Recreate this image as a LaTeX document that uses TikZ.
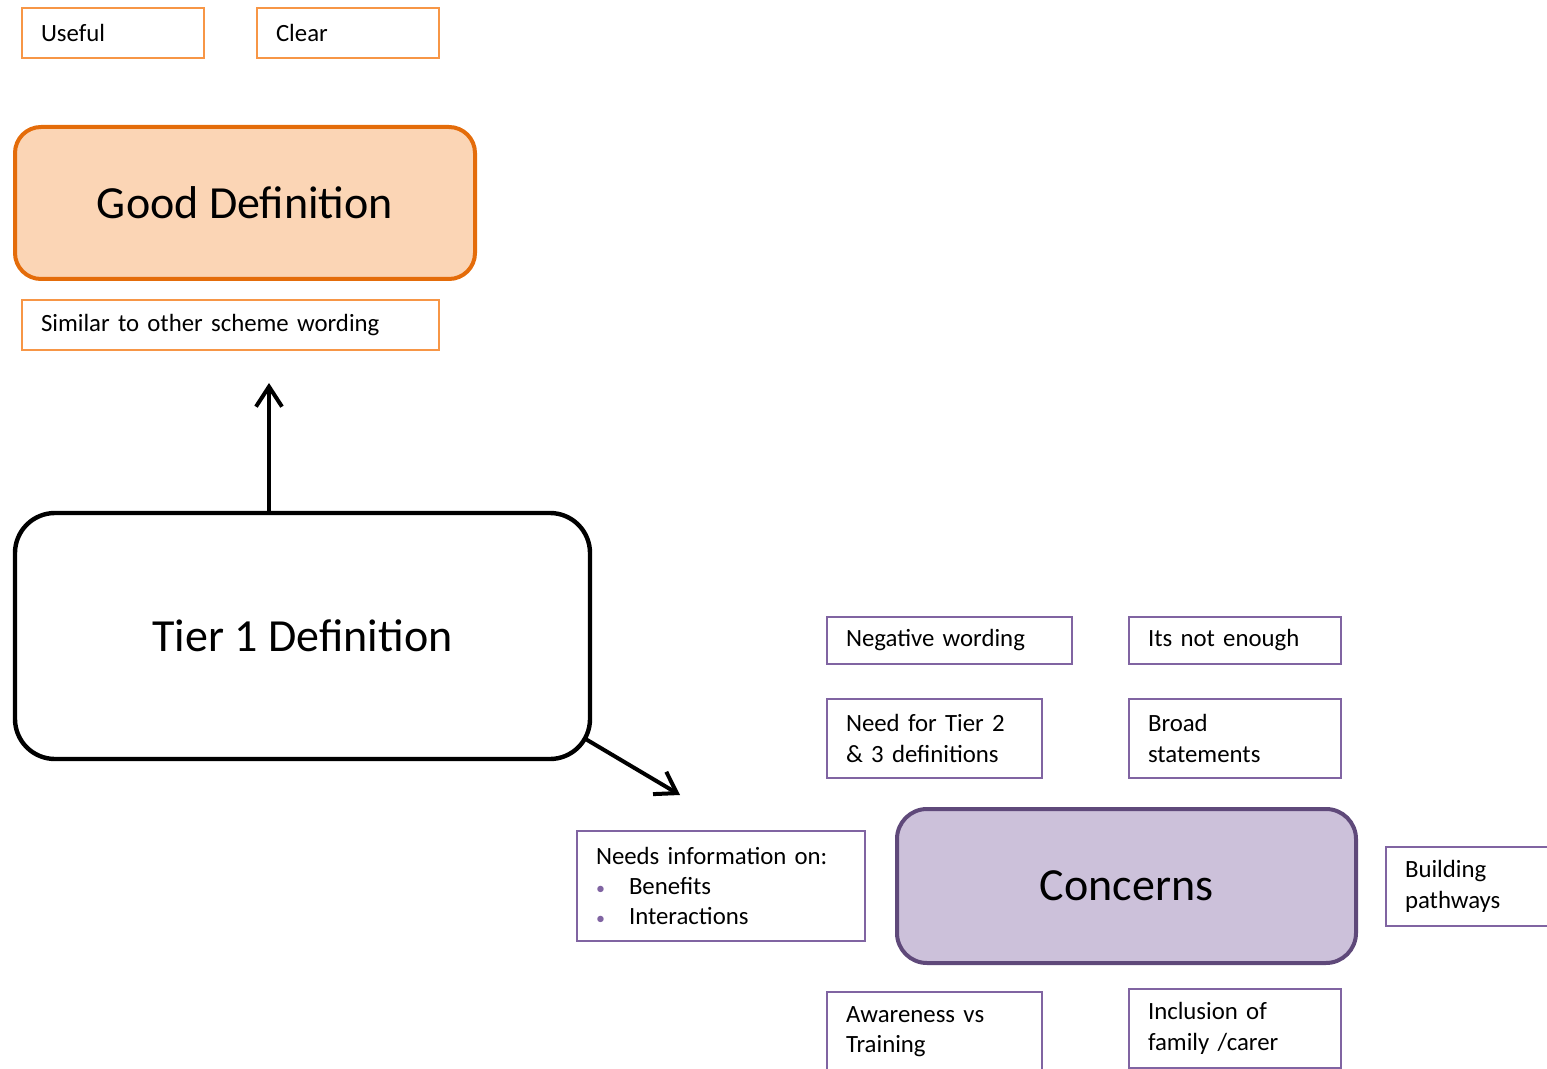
\documentclass[tikz,border=0pt]{standalone}
\usepackage{fontspec}
\setmainfont{Carlito}
\usetikzlibrary{arrows.meta,calc}
\definecolor{orline}{HTML}{F79646}
\definecolor{ordark}{HTML}{E46C0A}
\definecolor{orfill}{HTML}{FBD5B5}
\definecolor{puline}{HTML}{8064A2}
\definecolor{pudark}{HTML}{5F497A}
\definecolor{pufill}{HTML}{CCC1DA}

% a plain labelled box: name, style, left, top, width, height (pixels), text
\newcommand\tagbox[7]{%
  \pgfmathsetlengthmacro\tbw{#5*0.5pt}%
  \pgfmathsetlengthmacro\tbh{#6*0.5pt}%
  \pgfmathsetlengthmacro\tbt{#5*0.5pt-19pt}%
  \node[#2, anchor=north west, minimum width=\tbw, minimum height=\tbh,
        text width=\tbt] (#1) at (#3,#4) {#7};}
% a rounded title box: name, style, centre x, centre y, width, height, text
\newcommand\titlebox[7]{%
  \pgfmathsetlengthmacro\tbw{#5*0.5pt}%
  \pgfmathsetlengthmacro\tbh{#6*0.5pt}%
  \node[#2, minimum width=\tbw, minimum height=\tbh] (#1) at (#3,#4) {#7};}

\tikzset{
  tag/.style={draw, line width=1pt, inner xsep=9.5pt, inner ysep=0pt,
    align=left, font=\fontsize{12.4}{15.2}\selectfont, fill=white},
  ortag/.style={tag, draw=orline},
  putag/.style={tag, draw=puline},
  bigtitle/.style={font=\fontsize{23}{27}\selectfont, inner sep=0pt},
  link/.style={line width=2pt, -{Straight Barb[length=10pt,width=13pt,line width=2pt]}},
}
\newcommand\bul{\makebox[16.5pt][l]{\textcolor{puline}{\small•}}}

\begin{document}
\begin{tikzpicture}[x=0.5pt, y=-0.5pt]
  \useasboundingbox (0,0) rectangle (1547,1069);
  \clip (0,0) rectangle (1547,1069);

  % praise for the definition
  \tagbox{useful}{ortag}{21}{7}{182}{50}{Useful}
  \tagbox{clear}{ortag}{256}{7}{182}{50}{Clear}
  \titlebox{good}{bigtitle, draw=ordark, fill=orfill, line width=2pt,
    rounded corners=13pt}{245}{203}{460}{152}{Good Definition}
  \tagbox{similar}{ortag}{21}{299}{417}{50}{Similar to other scheme wording}

  % the definition itself
  \titlebox{tier1}{bigtitle, draw=black, fill=white, line width=2.2pt,
    rounded corners=20pt}{302.5}{636}{575}{246}{Tier 1 Definition}

  % concerns raised
  \tagbox{negative}{putag}{826}{616}{245}{47}{Negative wording}
  \tagbox{notenough}{putag}{1128}{616}{212}{47}{Its not enough}
  \tagbox{tiers}{putag}{826}{698}{215}{79}{Need for Tier 2\\\& 3 definitions}
  \tagbox{broad}{putag}{1128}{698}{212}{79}{Broad\\statements}
  \tagbox{needs}{putag}{576}{830}{288}{110}{Needs information on:\\\bul Benefits\\\bul Interactions}
  \titlebox{concerns}{bigtitle, draw=pudark, fill=pufill, line width=2pt,
    rounded corners=15pt}{1126.5}{886}{459}{154}{Concerns}
  \tagbox{pathways}{putag}{1385}{846}{200}{79}{Building\\pathways}
  \tagbox{awareness}{putag}{826}{991}{215}{79}{Awareness vs\\Training}
  \tagbox{inclusion}{putag}{1128}{988}{212}{79}{Inclusion of\\family /carer}

  % connectors
  \coordinate (upend) at (269,383);
  \coordinate (downend) at (680,795);
  \draw[link] (tier1.north -| upend) -- (upend);
  \draw[link] ($(tier1.south east)+(-8,-23)$) -- (downend);
\end{tikzpicture}
\end{document}
